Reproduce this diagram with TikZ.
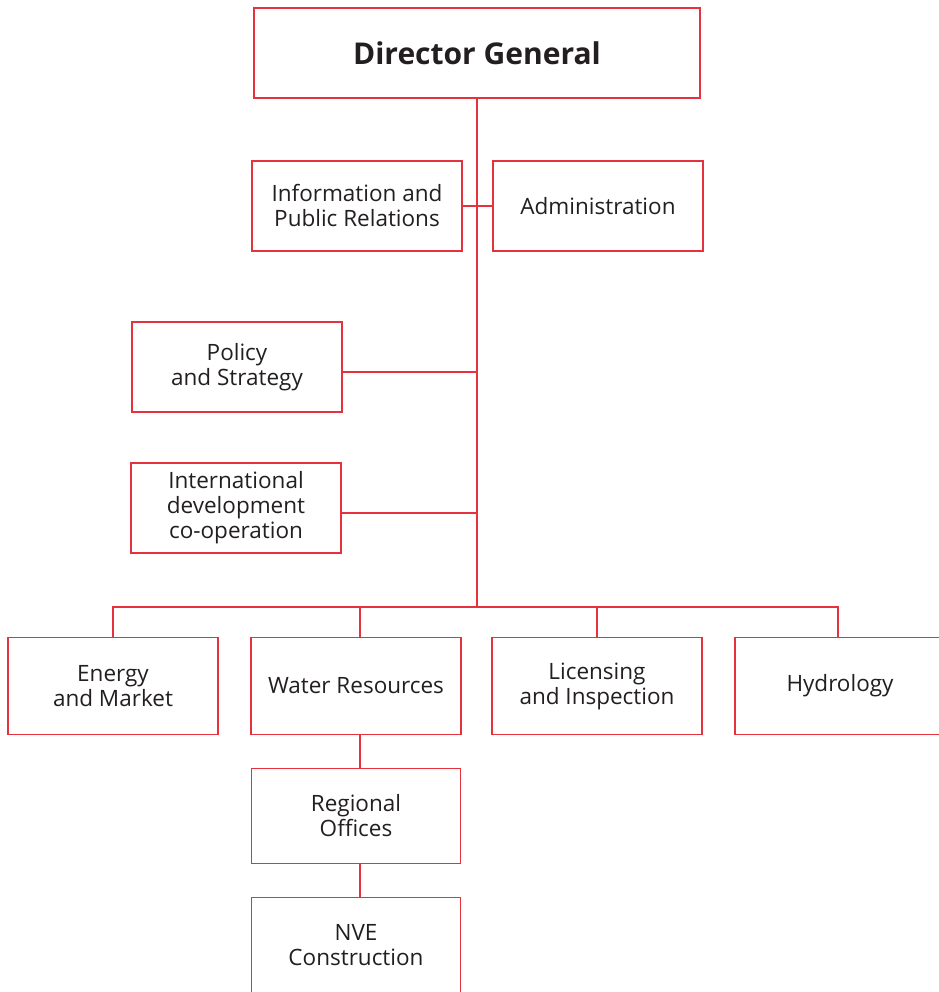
\documentclass[tikz,border=0pt]{standalone}
\usepackage{fontspec}
\setmainfont{Open Sans}
\usepackage{xcolor}
\usepackage{tikz}
\usetikzlibrary{positioning, calc}

\definecolor{nvered}{HTML}{E5323E}
\definecolor{nvetext}{HTML}{231F20}

\begin{document}
\begin{tikzpicture}[x=1pt, y=-1pt]

		\tikzstyle{unit}=[draw=nvered, line width=1.2pt, fill=white, minimum width=210pt, minimum height=90pt, align=center, text=nvetext, font=\fontsize{22.5}{25}\selectfont, inner sep=0pt]
		\tikzstyle{link}=[draw=nvered, line width=1.2pt]

		\useasboundingbox (0,0) rectangle (938,992);

		% top
		\node (dg) at (477,53) [unit, minimum width=446pt, font=\fontsize{30}{34}\bfseries] {Director General};

		\node (info) at (357,206) [unit] {Information and\\Public Relations};
		\node (admin) at (598,206) [unit] {Administration};

		\node (policy) at (237,367) [unit] {Policy\\and Strategy};
		\node (intl) at (236,508) [unit] {International\\development\\co-operation};

		% departments
		\node (energy) at (113,686) [unit, minimum height=97pt] {Energy\\and Market};
		\node (water) at (356,686) [unit, minimum height=97pt] {Water Resources};
		\node (lic) at (597,686) [unit, minimum height=97pt] {Licensing\\and Inspection};
		\node (hydro) at (840,686) [unit, minimum height=97pt] {Hydrology};

		\node (regional) at (356,816) [unit, minimum width=209pt, minimum height=95pt] {Regional\\Offices};
		\node (nvec) at (356,945) [unit, minimum width=209pt, minimum height=95pt] {NVE\\Construction};

		\coordinate (bus) at (477,607);

		\draw [link] (dg.south) -- (bus);
		\draw [link] (info.east) -- (admin.west);
		\draw [link] ([yshift=-5pt]policy.east) -- ([yshift=-5pt]policy.east -| bus);
		\draw [link] ([yshift=-5pt]intl.east) -- ([yshift=-5pt]intl.east -| bus);

		\draw [link] (energy.north -| 113,0) |- (bus) -| (hydro.north -| 838,0);
		\draw [link] (water.north -| 360,0) -- (bus -| 360,0);
		\draw [link] (lic.north) -- (bus -| lic.north);

		\draw [link] (water.south -| 360,0) -- (regional.north -| 360,0);
		\draw [link] (regional.south -| 360,0) -- (nvec.north -| 360,0);

\end{tikzpicture}
\end{document}
